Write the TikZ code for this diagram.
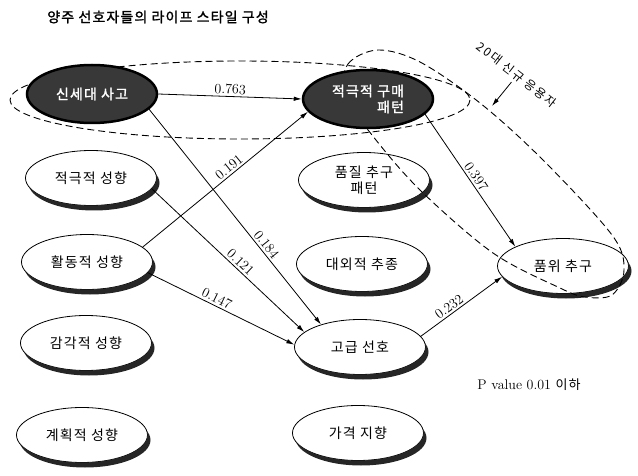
\documentclass[tikz,border=0pt]{standalone}
\usepackage{fontspec}
\newfontfamily\kr[LetterSpace=8]{Noto Sans CJK KR}
\newfontfamily\krb[LetterSpace=8,FakeBold=1.6]{Noto Sans CJK KR}
\usetikzlibrary{arrows.meta,shapes.geometric}

\begin{document}
\begin{tikzpicture}[x=1pt,y=-1pt,>={Latex[length=8pt,width=4.5pt]},
trait/.style={ellipse,draw,fill=white,line width=0.8pt,minimum width=131pt,minimum height=55pt,inner sep=0pt,align=center,font=\kr\fontsize{14}{16}\selectfont},
core/.style={ellipse,draw=black,line width=2.5pt,fill=black!78,text=white,minimum width=130pt,minimum height=58pt,inner sep=0pt,font=\krb\fontsize{14}{16}\selectfont},
rim/.style={fill=black!85,even odd rule},
grp/.style={dash pattern=on 7pt off 4pt,line width=0.9pt},
coef/.style={font=\fontsize{14}{16}\selectfont,sloped,above,inner sep=2pt}]
\useasboundingbox (0,0) rectangle (638,476);
\node[font=\krb\fontsize{14}{16}\selectfont] (title) at (158,17) {양주 선호자들의 라이프 스타일 구성};
% left column
\node[trait] (jeok) at (91,178) {적극적 성향};
\node[trait] (hwal) at (87,262) {활동적 성향};
\node[trait] (gamgak) at (86,343) {감각적 성향};
\node[trait] (gyehoek) at (82,435) {계획적 성향};
% middle column
\node[trait] (pumjil) at (364,180) {품질 추구\\패턴};
\node[trait] (daeoe) at (362,264) {대외적 추종};
\node[trait] (gogeup) at (360,347) {고급 선호};
\node[trait] (gagyeok) at (358,433) {가격 지향};
\node[trait] (pumwi) at (563,266) {품위 추구};
% rims (lower right of each ellipse)
\foreach \n in {jeok,hwal,gamgak,gyehoek,pumjil,daeoe,gogeup,gagyeok,pumwi}{
  \begin{scope}
    \clip ([shift={(3,5)}]\n.center) ellipse [x radius=65.5, y radius=27.5];
    \fill[rim] (\n.center) ellipse [x radius=65.5, y radius=27.5]
      ([shift={(-80,-40)}]\n.center) rectangle ([shift={(80,40)}]\n.center);
  \end{scope}
}
% groups
\draw[grp] (240,100) ellipse [x radius=230, y radius=39];
\draw[grp] plot[smooth cycle,tension=0.55] coordinates {(345,95) (348,64) (378,50) (420,62) (480,103) (543,160) (612,235) (624,270) (612,295) (585,297) (560,288) (493,253) (420,190) (372,135)};
\node[core] (sin) at (92,94) {신세대 사고};
\node[core,align=right] (gumae) at (368,99) {적극적 구매\\패턴};
\node[font=\kr\fontsize{12}{14}\selectfont\addfontfeature{LetterSpace=15},rotate=-38] (newusr) at (517,75) {20대 신규 응용자};
\coordinate (tip) at (492,106);
\draw[->,line width=0.8pt] (newusr.south) -- (tip);
% paths
\draw[->,line width=0.8pt] (sin.east) -- node[coef]{0.763} (gumae.west);
\draw[->,line width=0.8pt] (sin.-15) -- node[coef,pos=0.65]{0.184} (gogeup.150);
\draw[->,line width=0.8pt] (hwal.15) -- node[coef,pos=0.55]{0.191} (gumae.192);
\draw[->,line width=0.8pt] (jeok.-10) -- node[coef,pos=0.55]{0.121} (gogeup.165);
\draw[->,line width=0.8pt] (hwal.-10) -- node[coef,pos=0.45]{0.147} (gogeup.178);
\draw[->,line width=0.8pt] (gumae.-15) -- node[coef]{0.397} (pumwi.158);
\draw[->,line width=0.8pt] (gogeup.10) -- node[coef,pos=0.4]{0.232} (pumwi.190);
\node[font=\fontsize{14}{16}\selectfont] (pval) at (529,385) {P value 0.01 {\kr\fontsize{13}{15}\selectfont 이하}};
\end{tikzpicture}
\end{document}
